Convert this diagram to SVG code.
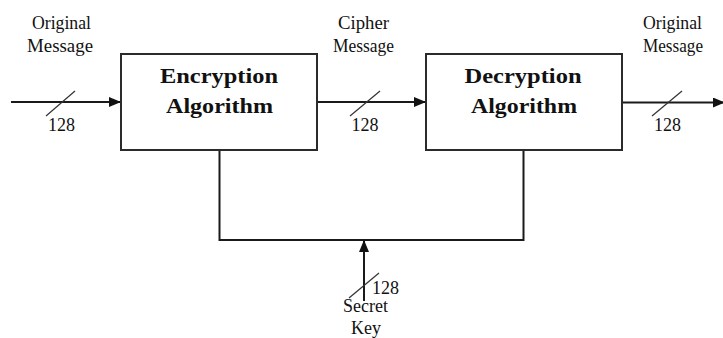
<svg xmlns="http://www.w3.org/2000/svg" width="723" height="338" viewBox="0 0 723 338">
  <style>
    .box { fill: #ffffff; stroke: #2b2b2b; stroke-width: 2; }
    .wire { fill: none; stroke: #1a1a1a; stroke-width: 2; }
    .slash { fill: none; stroke: #333333; stroke-width: 1.2; }
    .lbl { font-family: "Liberation Serif", "Times New Roman", serif; font-size: 18px; fill: #111111; text-anchor: middle; }
    .title { font-family: "Liberation Serif", "Times New Roman", serif; font-size: 22px; font-weight: bold; fill: #111111; text-anchor: middle; }
  </style>
  <defs>
    <marker id="arrow" viewBox="0 0 12 10" refX="12" refY="5" markerWidth="12" markerHeight="10" markerUnits="userSpaceOnUse" orient="auto">
      <path d="M0,0 L12,5 L0,10 Z" fill="#111111"/>
    </marker>
  </defs>
  <rect width="723" height="338" fill="#ffffff"/>

  <g id="connectors">
    <!-- plaintext in -->
    <line class="wire" x1="11" y1="102" x2="121" y2="102" marker-end="url(#arrow)"/>
    <line class="slash" x1="46" y1="116" x2="75" y2="91"/>
    <!-- ciphertext between blocks -->
    <line class="wire" x1="317" y1="102" x2="426" y2="102" marker-end="url(#arrow)"/>
    <line class="slash" x1="350" y1="116" x2="380" y2="91"/>
    <!-- plaintext out -->
    <line class="wire" x1="622" y1="102.5" x2="725" y2="102.5" marker-end="url(#arrow)"/>
    <line class="slash" x1="652" y1="116" x2="682" y2="91"/>
    <!-- shared key bus -->
    <polyline class="wire" points="219.5,150 219.5,240 523.5,240 523.5,150"/>
    <line class="wire" x1="364" y1="301" x2="364" y2="240" marker-end="url(#arrow)"/>
    <line class="slash" x1="349" y1="298" x2="379" y2="273"/>
  </g>

  <g id="encryption">
    <rect class="box" x="121" y="54" width="196" height="96"/>
    <text class="title" x="219" y="83" textLength="118" lengthAdjust="spacingAndGlyphs">Encryption</text>
    <text class="title" x="219.5" y="113" textLength="107" lengthAdjust="spacingAndGlyphs">Algorithm</text>
  </g>

  <g id="decryption">
    <rect class="box" x="426" y="54" width="196" height="96"/>
    <text class="title" x="523" y="83" textLength="117" lengthAdjust="spacingAndGlyphs">Decryption</text>
    <text class="title" x="524" y="113" textLength="106" lengthAdjust="spacingAndGlyphs">Algorithm</text>
  </g>

  <g id="input-label">
    <text class="lbl" x="61.5" y="29" textLength="59" lengthAdjust="spacingAndGlyphs">Original</text>
    <text class="lbl" x="60" y="52" textLength="66" lengthAdjust="spacingAndGlyphs">Message</text>
    <text class="lbl" x="61.5" y="131">128</text>
  </g>

  <g id="cipher-label">
    <text class="lbl" x="363.5" y="29" textLength="51" lengthAdjust="spacingAndGlyphs">Cipher</text>
    <text class="lbl" x="363.5" y="52" textLength="61" lengthAdjust="spacingAndGlyphs">Message</text>
    <text class="lbl" x="365" y="131">128</text>
  </g>

  <g id="output-label">
    <text class="lbl" x="672.5" y="29" textLength="59" lengthAdjust="spacingAndGlyphs">Original</text>
    <text class="lbl" x="673" y="52" textLength="60" lengthAdjust="spacingAndGlyphs">Message</text>
    <text class="lbl" x="667.5" y="131">128</text>
  </g>

  <g id="key-label">
    <text class="lbl" x="385.5" y="294">128</text>
    <text class="lbl" x="365.5" y="312">Secret</text>
    <text class="lbl" x="366" y="334">Key</text>
  </g>
</svg>
